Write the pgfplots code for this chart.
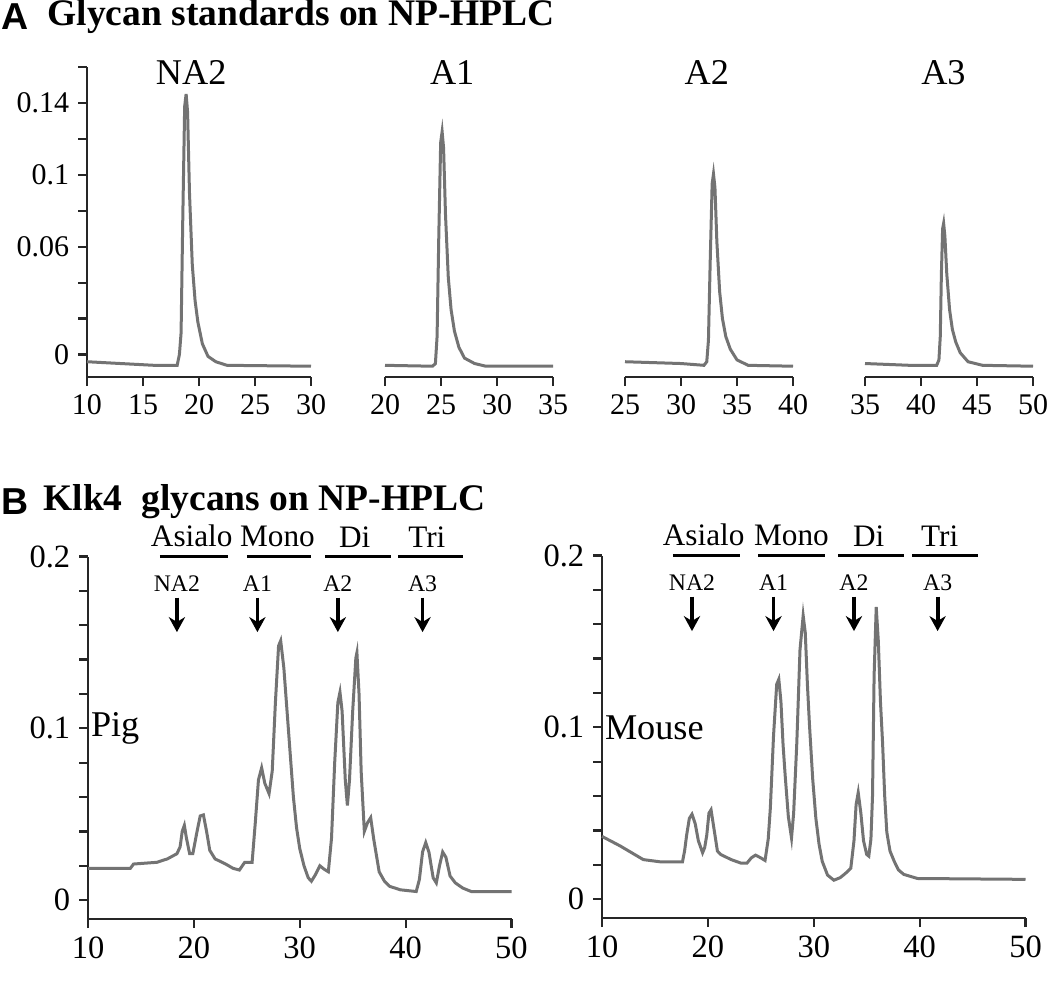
\documentclass[border=0pt]{standalone}
\usepackage{fontspec}
\setmainfont{Liberation Serif}
\newfontfamily\panelfont{Liberation Sans}
\usepackage{pgfplots}
\pgfplotsset{compat=1.18}
\usetikzlibrary{arrows.meta}

\pgfplotsset{
  trace/.style={black!55, line width=1.2pt, no marks},
  hplc/.style={
    scale only axis, clip=false, anchor=south west,
    axis line style={black!85, line width=0.9pt},
    every tick/.style={black!85, line width=0.9pt},
    major tick length=3.6pt, minor tick length=3.6pt,
    tick align=outside,
    /pgf/number format/assume math mode=true,
    scaled ticks=false,
  },
  toprow/.style={hplc, height=124pt, ymin=-0.0125, ymax=0.16,
    axis x line*=bottom, xtick distance=5,
    ticklabel style={font=\fontsize{12}{14}\selectfont}},
  botrow/.style={hplc, width=169.4pt, height=145pt, xmin=10, xmax=50, ymin=-0.011, ymax=0.2,
    axis lines*=left, xtick={10,20,30,40,50},
    ytick={0,0.1,0.2}, yticklabels={0,0.1,0.2},
    minor ytick={0.02,0.04,0.06,0.08,0.12,0.14,0.16,0.18},
    ticklabel style={font=\fontsize{13}{15}\selectfont}},
}
\tikzset{
  grp/.style={font=\fontsize{12.5}{14}\selectfont, anchor=south, inner sep=0pt, yshift=3.5pt},
  std/.style={font=\fontsize{9.5}{11}\selectfont, inner sep=0pt},
  dn/.style={-{Stealth[length=6pt,width=6.5pt]}, line width=1.5pt},
}

\begin{document}
\begin{tikzpicture}
\path[use as bounding box] (0,0) rectangle (420pt,-393.2pt);

\node[anchor=west, font=\panelfont\bfseries\fontsize{15}{17}\selectfont, inner sep=0pt] at (0.5pt,-6.8pt) {A};
\node[anchor=west, font=\bfseries\fontsize{15}{17}\selectfont, inner sep=0pt] at (18.8pt,-6.8pt) {Glycan standards on NP-HPLC};
\node[anchor=west, font=\panelfont\bfseries\fontsize{15}{17}\selectfont, inner sep=0pt] at (0.5pt,-200.8pt) {B};
\node[anchor=west, font=\bfseries\fontsize{15}{17}\selectfont, inner sep=0pt] at (17.2pt,-200.8pt) {Klk4\ \ glycans on NP-HPLC};

% --- A: standards
\begin{axis}[toprow, at={(34.8pt,-150.8pt)}, width=89.6pt, xmin=10, xmax=30,
  axis y line*=left,
  ytick={0,0.06,0.1,0.14}, yticklabels={0,0.06,0.1,0.14},
  minor ytick={0.02,0.04,0.08,0.12,0.16}]
\addplot[trace] coordinates {
(10,-0.004) (13,-0.005) (16,-0.006) (18.05,-0.006) (18.25,0.0) (18.4,0.012) (18.55,0.075)
(18.72,0.138) (18.85,0.145) (18.98,0.135) (19.15,0.09) (19.4,0.05) (19.65,0.03) (19.9,0.018)
(20.3,0.006) (20.8,-0.001) (21.5,-0.004) (22.5,-0.006) (30,-0.0065)};
\node[font=\fontsize{14.5}{16}\selectfont] at (axis cs:19.3,0.157) {NA2};
\end{axis}

\begin{axis}[toprow, at={(154pt,-150.8pt)}, width=67.2pt, xmin=20, xmax=35, axis y line=none]
\addplot[trace] coordinates {
(20,-0.006) (24.25,-0.0065) (24.5,-0.005) (24.65,0.01) (24.8,0.065) (24.97,0.118) (25.1,0.124)
(25.23,0.115) (25.4,0.078) (25.65,0.043) (25.9,0.025) (26.2,0.013) (26.6,0.004) (27.1,-0.002)
(28,-0.005) (29,-0.0065) (35,-0.0065)};
\node[font=\fontsize{14.5}{16}\selectfont] at (axis cs:26.0,0.157) {A1};
\end{axis}

\begin{axis}[toprow, at={(250pt,-150.8pt)}, width=67.2pt, xmin=25, xmax=40, axis y line=none]
\addplot[trace] coordinates {
(25,-0.004) (30,-0.005) (32.05,-0.006) (32.3,-0.004) (32.45,0.008) (32.6,0.05) (32.78,0.095)
(32.9,0.1005) (33.03,0.093) (33.2,0.063) (33.45,0.035) (33.7,0.02) (34.0,0.01) (34.4,0.003)
(35,-0.003) (36,-0.006) (40,-0.0065)};
\node[font=\fontsize{14.5}{16}\selectfont] at (axis cs:32.3,0.157) {A2};
\end{axis}

\begin{axis}[toprow, at={(346pt,-150.8pt)}, width=67.2pt, xmin=35, xmax=50, axis y line=none]
\addplot[trace] coordinates {
(35,-0.005) (39,-0.006) (41.4,-0.006) (41.6,-0.003) (41.72,0.01) (41.82,0.045) (41.93,0.07)
(42.02,0.073) (42.13,0.066) (42.3,0.045) (42.55,0.025) (42.8,0.014) (43.1,0.007) (43.5,0.001)
(44.2,-0.004) (45.5,-0.006) (50,-0.0065)};
\node[font=\fontsize{14.5}{16}\selectfont] at (axis cs:42.0,0.157) {A3};
\end{axis}

% --- B: pig
\begin{axis}[botrow, at={(35.2pt,-367.6pt)}]
\addplot[trace] coordinates {
(10,0.0185) (14,0.0185) (14.3,0.021) (16.5,0.022) (17.5,0.024) (18.4,0.027) (18.7,0.031)
(18.9,0.04) (19.1,0.0435) (19.3,0.036) (19.6,0.027) (19.9,0.027) (20.3,0.04) (20.6,0.049)
(20.9,0.0496) (21.2,0.04) (21.5,0.029) (22.0,0.024) (23.0,0.021) (23.7,0.0185) (24.3,0.0175)
(24.8,0.022) (25.5,0.022) (25.8,0.045) (26.1,0.07) (26.4,0.077) (26.7,0.068) (27.1,0.062)
(27.4,0.075) (27.7,0.115) (28.0,0.148) (28.2,0.151) (28.5,0.135) (28.8,0.11) (29.1,0.085)
(29.4,0.06) (29.7,0.042) (30.0,0.03) (30.4,0.02) (30.8,0.013) (31.1,0.011) (31.5,0.015)
(31.9,0.020) (32.3,0.018) (32.7,0.0165) (33.0,0.036) (33.3,0.08) (33.6,0.115) (33.8,0.121)
(34.0,0.11) (34.3,0.07) (34.5,0.055) (34.7,0.07) (35.0,0.11) (35.3,0.141) (35.4,0.144)
(35.6,0.12) (35.8,0.075) (36.1,0.040) (36.4,0.045) (36.7,0.048) (37.0,0.035) (37.5,0.0165)
(38.0,0.011) (38.5,0.008) (39.5,0.006) (41.0,0.005) (41.3,0.012) (41.6,0.028) (41.9,0.0335)
(42.2,0.028) (42.6,0.013) (42.9,0.01) (43.2,0.02) (43.5,0.028) (43.8,0.025) (44.2,0.014)
(44.7,0.01) (45.4,0.007) (46.2,0.005) (50,0.005)};
\node[anchor=west, font=\fontsize{14.5}{16}\selectfont, inner sep=1pt] at (axis cs:10,0.1) {Pig};
\draw[line width=1.1pt] (axis cs:16.8,0.2) -- (axis cs:23.2,0.2);
\draw[line width=1.1pt] (axis cs:25.0,0.2) -- (axis cs:31.1,0.2);
\draw[line width=1.1pt] (axis cs:32.4,0.2) -- (axis cs:38.6,0.2);
\draw[line width=1.1pt] (axis cs:39.3,0.2) -- (axis cs:45.4,0.2);
\node[grp] at (axis cs:19.8,0.2) {Asialo};
\node[grp] at (axis cs:27.9,0.2) {Mono};
\node[grp] at (axis cs:35.2,0.2) {Di};
\node[grp] at (axis cs:42.0,0.2) {Tri};
\node[std] at (axis cs:18.4,0.184) {NA2};
\node[std] at (axis cs:26.0,0.184) {A1};
\node[std] at (axis cs:33.6,0.184) {A2};
\node[std] at (axis cs:41.6,0.184) {A3};
\draw[dn] (axis cs:18.4,0.176) -- (axis cs:18.4,0.156);
\draw[dn] (axis cs:26.0,0.176) -- (axis cs:26.0,0.156);
\draw[dn] (axis cs:33.6,0.176) -- (axis cs:33.6,0.156);
\draw[dn] (axis cs:41.6,0.176) -- (axis cs:41.6,0.156);
\end{axis}

% --- B: mouse
\begin{axis}[botrow, at={(240.8pt,-367.2pt)}]
\addplot[trace] coordinates {
(10,0.0365) (11.7,0.031) (13.9,0.023) (15.5,0.0217) (17.6,0.0217) (17.8,0.028) (18.0,0.0375)
(18.25,0.047) (18.5,0.0494) (18.8,0.044) (19.1,0.034) (19.5,0.027) (19.7,0.03) (19.9,0.0375)
(20.1,0.05) (20.3,0.052) (20.6,0.04) (20.9,0.028) (21.2,0.026) (22.2,0.023) (23.1,0.021)
(23.7,0.021) (24.1,0.024) (24.5,0.0256) (25.0,0.024) (25.4,0.0225) (25.7,0.035) (25.9,0.053)
(26.2,0.095) (26.5,0.125) (26.7,0.128) (26.9,0.115) (27.1,0.09) (27.3,0.072) (27.6,0.048)
(27.9,0.0356) (28.1,0.05) (28.4,0.091) (28.7,0.145) (29.0,0.165) (29.2,0.155) (29.4,0.125)
(29.6,0.101) (29.9,0.07) (30.2,0.047) (30.5,0.032) (30.8,0.022) (31.3,0.014) (31.9,0.011)
(32.5,0.0125) (33.0,0.015) (33.5,0.018) (33.8,0.034) (34.0,0.055) (34.2,0.062) (34.45,0.05)
(34.7,0.034) (35.0,0.026) (35.2,0.025) (35.4,0.035) (35.55,0.06) (35.7,0.13) (35.9,0.170)
(36.1,0.15) (36.3,0.115) (36.5,0.091) (36.7,0.06) (36.9,0.039) (37.2,0.028) (37.6,0.022)
(38.0,0.017) (38.5,0.0144) (39.8,0.012) (50,0.0115)};
\node[anchor=west, font=\fontsize{14.5}{16}\selectfont, inner sep=1pt] at (axis cs:10,0.1) {Mouse};
\draw[line width=1.1pt] (axis cs:16.7,0.2) -- (axis cs:23.05,0.2);
\draw[line width=1.1pt] (axis cs:24.75,0.2) -- (axis cs:31.1,0.2);
\draw[line width=1.1pt] (axis cs:32.3,0.2) -- (axis cs:38.5,0.2);
\draw[line width=1.1pt] (axis cs:39.3,0.2) -- (axis cs:45.5,0.2);
\node[grp] at (axis cs:19.6,0.2) {Asialo};
\node[grp] at (axis cs:27.9,0.2) {Mono};
\node[grp] at (axis cs:35.2,0.2) {Di};
\node[grp] at (axis cs:41.9,0.2) {Tri};
\node[std] at (axis cs:18.5,0.184) {NA2};
\node[std] at (axis cs:26.2,0.184) {A1};
\node[std] at (axis cs:33.8,0.184) {A2};
\node[std] at (axis cs:41.7,0.184) {A3};
\draw[dn] (axis cs:18.5,0.176) -- (axis cs:18.5,0.156);
\draw[dn] (axis cs:26.2,0.176) -- (axis cs:26.2,0.156);
\draw[dn] (axis cs:33.8,0.176) -- (axis cs:33.8,0.156);
\draw[dn] (axis cs:41.7,0.176) -- (axis cs:41.7,0.156);
\end{axis}
\end{tikzpicture}
\end{document}
